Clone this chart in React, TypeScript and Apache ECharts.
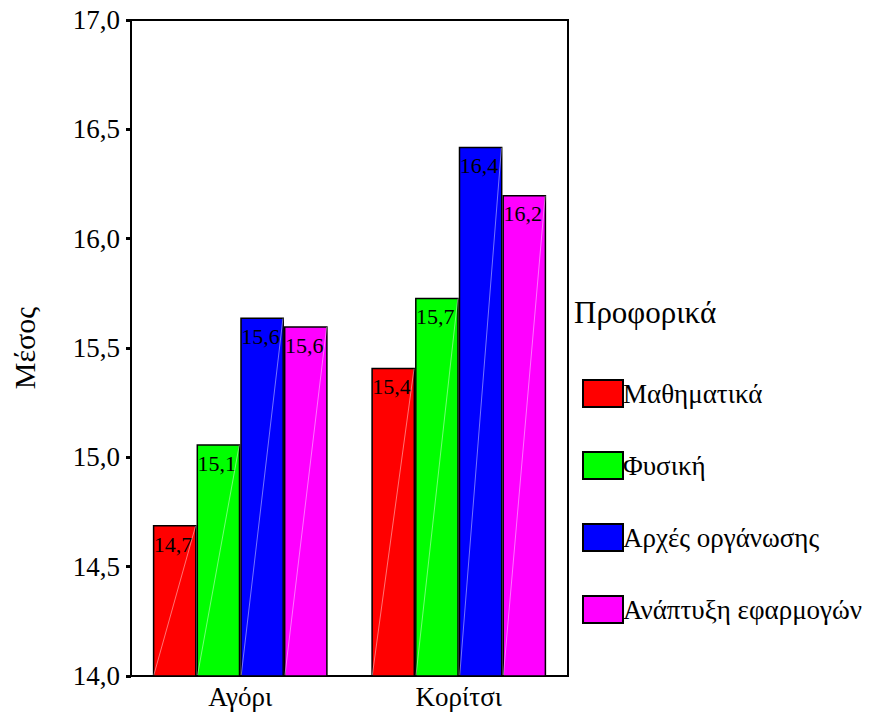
import React, { useEffect, useRef } from "react";
import * as echarts from "echarts";

const categories = ["Αγόρι", "Κορίτσι"];
const seriesNames = ["Μαθηματικά", "Φυσική", "Αρχές οργάνωσης", "Ανάπτυξη εφαρμογών"];
const mathValues = [14.69, 15.41];
const physicsValues = [15.06, 15.73];
const orgValues = [15.64, 16.42];
const appValues = [15.6, 16.2];
const seriesColors = ["#ff0000", "#00ff00", "#0000ff", "#ff00ff"];
const legendTitle = "Προφορικά";
const yAxisName = "Μέσος";
const yMin = 14;
const yMax = 17;

const FONT = "Liberation Serif, serif";
const fmt = (v: number) => v.toFixed(1).replace(".", ",");

export default function App() {
  const ref = useRef<HTMLDivElement>(null);
  useEffect(() => {
    if (!ref.current) return;
    const chart = echarts.init(ref.current, null, { renderer: "svg" });
    const allValues = [mathValues, physicsValues, orgValues, appValues];
    const diagData: number[][] = [];
    allValues.forEach((vals, s) => vals.forEach((v, c) => diagData.push([c, v, s])));

    const barSeries = seriesNames.map((name, i) => ({
      name,
      type: "bar",
      data: allValues[i],
      barGap: "0%",
      barCategoryGap: "20%",
      itemStyle: { color: seriesColors[i], borderColor: "#000", borderWidth: 1.5 },
      label: {
        show: true,
        position: [1, 8],
        fontFamily: FONT,
        fontSize: 22,
        color: "#000",
        formatter: (p: any) => fmt(p.value),
      },
    }));

    const diagSeries = {
      type: "custom",
      name: "diag",
      silent: true,
      z: 3,
      data: diagData,
      renderItem: (params: any, api: any) => {
        const c = api.value(0);
        const v = api.value(1);
        const s = api.value(2);
        const band = api.size([1, 0])[0];
        const bw = (band * 0.8) / 4;
        const center = api.coord([c, yMin]);
        const top = api.coord([c, v]);
        const left = center[0] - 2 * bw + s * bw;
        return {
          type: "line",
          shape: { x1: left + 1, y1: center[1] - 1, x2: left + bw - 1, y2: top[1] + 1 },
          style: { stroke: "rgba(255,255,255,0.45)", lineWidth: 1 },
        };
      },
    };

    chart.setOption({
      animation: false,
      backgroundColor: "#ffffff",
      textStyle: { fontFamily: FONT },
      title: {
        text: legendTitle,
        left: 574,
        top: 297,
        padding: 0,
        textStyle: { fontFamily: FONT, fontSize: 31, fontWeight: "normal", color: "#000" },
      },
      legend: {
        orient: "vertical",
        left: 582,
        top: 379,
        padding: 0,
        itemWidth: 40,
        itemHeight: 27,
        itemGap: 43,
        icon: "rect",
        data: seriesNames,
        textStyle: { fontFamily: FONT, fontSize: 27, color: "#000", padding: [0, 0, 0, -5] },
      },
      grid: {
        left: 131,
        top: 20,
        width: 437,
        height: 656,
        show: true,
        borderColor: "#000",
        borderWidth: 2,
        backgroundColor: "transparent",
      },
      xAxis: {
        type: "category",
        data: categories,
        axisLine: { lineStyle: { color: "#000", width: 2 } },
        axisTick: { alignWithLabel: true, length: 4, lineStyle: { color: "#000", width: 3 } },
        axisLabel: { fontFamily: FONT, fontSize: 27, color: "#000", margin: 7 },
      },
      yAxis: {
        type: "value",
        min: yMin,
        max: yMax,
        interval: 0.5,
        name: yAxisName,
        nameLocation: "middle",
        nameGap: 92,
        nameTextStyle: { fontFamily: FONT, fontSize: 30, color: "#000" },
        splitLine: { show: false },
        axisLine: { show: true, lineStyle: { color: "#000", width: 2 } },
        axisTick: { show: true, length: 5, lineStyle: { color: "#000", width: 3 } },
        axisLabel: { fontFamily: FONT, fontSize: 27, color: "#000", margin: 11, formatter: fmt },
      },
      series: [...barSeries, diagSeries],
    });
    return () => chart.dispose();
  }, []);
  return (
    <div
      ref={ref}
      style={{ position: "fixed", left: 0, top: 0, width: 874, height: 715 }}
    />
  );
}
